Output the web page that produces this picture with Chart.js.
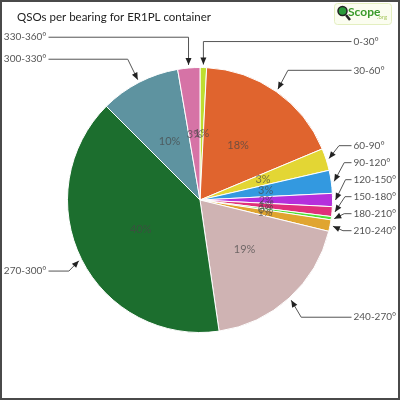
<!DOCTYPE html>
<html>
<head>
<meta charset="utf-8">
<script src="https://cdn.jsdelivr.net/npm/chart.js@4/dist/chart.umd.min.js"></script>
<style>
  html, body { margin: 0; padding: 0; background: #fff; }
  #wrap { width: 400px; height: 400px; }
</style>
</head>
<body>
<div id="wrap"><canvas id="bearingPie" width="400" height="400"></canvas></div>
<script>
// bearing sectors and share of QSOs (%)
const bearings = ['0-30°', '30-60°', '60-90°', '90-120°', '120-150°', '150-180°',
  '180-210°', '210-240°', '240-270°', '270-300°', '300-330°', '330-360°'];
const shares = [0.8, 17.9, 2.7, 2.8, 1.6, 1.2, 0.4, 1.4, 18.9, 39.8, 9.8, 2.7];
const sliceColors = ['#bedd30', '#e0642e', '#e3d634', '#3399e0', '#b52fdc', '#e0307a',
  '#4ee034', '#e0a530', '#cfb3b3', '#1c6e2e', '#5e93a0', '#d673a6'];
const chartTitle = 'QSOs per bearing for ER1PL container';

// arrow head at the end of a leader line
function arrowHead(ctx, fromX, fromY, toX, toY) {
  const ang = Math.atan2(toY - fromY, toX - fromX);
  const len = 7, half = 3;
  ctx.beginPath();
  ctx.moveTo(toX, toY);
  ctx.lineTo(toX - len * Math.cos(ang) + half * Math.sin(ang), toY - len * Math.sin(ang) - half * Math.cos(ang));
  ctx.lineTo(toX - len * Math.cos(ang) - half * Math.sin(ang), toY - len * Math.sin(ang) + half * Math.cos(ang));
  ctx.closePath();
  ctx.fill();
}

// push labels apart, working upwards from the lowest one
function spread(items, gap) {
  items.sort((a, b) => a.y - b.y);
  for (let i = items.length - 2; i >= 0; i--) {
    if (items[i + 1].y - items[i].y < gap) items[i].y = items[i + 1].y - gap;
  }
}

const calloutPlugin = {
  id: 'callouts',
  beforeDraw(chart) {
    const ctx = chart.ctx;
    ctx.save();
    ctx.fillStyle = '#fff';
    ctx.fillRect(0, 0, chart.width, chart.height);
    ctx.restore();
  },
  afterDatasetsDraw(chart) {
    const ctx = chart.ctx;
    const meta = chart.getDatasetMeta(0);
    const total = shares.reduce((s, v) => s + v, 0);
    const left = [], right = [];

    ctx.save();
    meta.data.forEach((arc, i) => {
      const p = arc.getProps(['x', 'y', 'startAngle', 'endAngle', 'outerRadius'], true);
      const mid = (p.startAngle + p.endAngle) / 2;
      const r = p.outerRadius;

      // percentage inside the slice
      ctx.font = "11px Lato";
      ctx.fillStyle = 'rgba(70,70,70,0.7)';
      ctx.textAlign = 'center';
      ctx.textBaseline = 'middle';
      const pct = Math.round(shares[i] / total * 100) + '%';
      ctx.fillText(pct, p.x + r * 0.5 * Math.cos(mid), p.y + r * 0.5 * Math.sin(mid));

      const item = {
        i, mid, cx: p.x, cy: p.y, r,
        tipX: p.x + (r + 3) * Math.cos(mid),
        tipY: p.y + (r + 3) * Math.sin(mid),
        y: p.y + (r + 26) * Math.sin(mid)
      };
      (Math.cos(mid) >= 0 ? right : left).push(item);
    });

    spread(right, 17);
    spread(left, 22);

    ctx.strokeStyle = '#555';
    ctx.lineWidth = 1;
    [[right, 1], [left, -1]].forEach(([items, dir]) => {
      items.forEach(it => {
        const nearPole = Math.abs(Math.cos(it.mid)) < 0.15;
        const cornerX = nearPole ? it.tipX : it.tipX + dir * 10;
        const textX = it.cx + dir * (it.r + 21);
        const lineEnd = textX - dir * 2;
        ctx.beginPath();
        ctx.moveTo(lineEnd, it.y);
        ctx.lineTo(cornerX, it.y);
        ctx.lineTo(it.tipX, it.tipY);
        ctx.stroke();
        ctx.fillStyle = '#222';
        arrowHead(ctx, cornerX, it.y, it.tipX, it.tipY);

        ctx.font = "10px Lato";
        ctx.fillStyle = '#555';
        ctx.textAlign = dir > 0 ? 'left' : 'right';
        ctx.textBaseline = 'middle';
        ctx.fillText(bearings[it.i], textX, it.y);
      });
    });
    ctx.restore();
  },
  afterDraw(chart) {
    const ctx = chart.ctx;
    ctx.save();
    // title
    ctx.font = "11.5px Lato";
    ctx.fillStyle = '#222';
    ctx.textAlign = 'left';
    ctx.textBaseline = 'middle';
    ctx.fillText(chartTitle, 17, 17);

    // QScope.org badge
    ctx.fillStyle = '#fbfdf0';
    ctx.strokeStyle = '#e4efc0';
    ctx.lineWidth = 1;
    ctx.beginPath();
    ctx.roundRect(334.5, 3.5, 57, 21, 3);
    ctx.fill();
    ctx.stroke();
    ctx.strokeStyle = '#222';
    ctx.lineWidth = 2.5;
    ctx.beginPath();
    ctx.moveTo(346, 15);
    ctx.lineTo(350, 20);
    ctx.stroke();
    ctx.fillStyle = '#2a9a3a';
    ctx.lineWidth = 1.5;
    ctx.beginPath();
    ctx.arc(342.5, 11, 4.5, 0, Math.PI * 2);
    ctx.fill();
    ctx.stroke();
    ctx.font = "bold 12px Lato";
    ctx.fillStyle = '#3a9a2a';
    ctx.fillText('Scope', 348, 12);
    ctx.font = "6px Lato";
    ctx.fillStyle = '#a8c860';
    ctx.fillText('.org', 377, 17);

    // frame
    ctx.strokeStyle = '#4a4a4a';
    ctx.lineWidth = 2;
    ctx.strokeRect(1, 1, chart.width - 2, chart.height - 2);
    ctx.restore();
  }
};

const ctx = document.getElementById('bearingPie').getContext('2d');
const pieChart = new Chart(ctx, {
  type: 'pie',
  data: {
    labels: bearings,
    datasets: [{
      data: shares,
      backgroundColor: sliceColors,
      borderColor: '#ffffff',
      borderWidth: 1
    }]
  },
  options: {
    responsive: false,
    animation: false,
    layout: { padding: 67 },
    events: [],
    plugins: {
      legend: { display: false },
      title: { display: false },
      tooltip: { enabled: false }
    }
  },
  plugins: [calloutPlugin]
});
</script>
</body>
</html>
